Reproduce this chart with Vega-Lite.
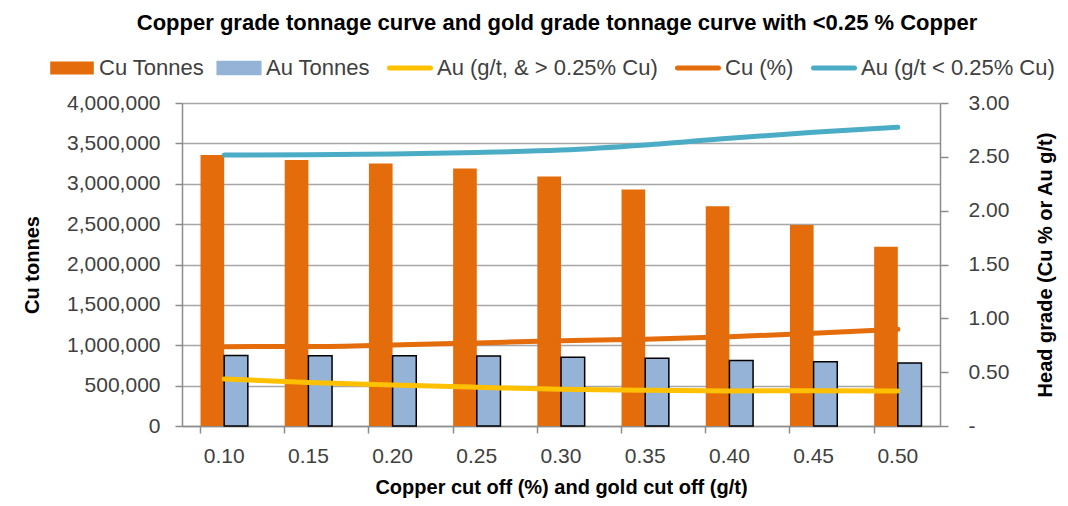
{
  "$schema": "https://vega.github.io/schema/vega-lite/v6.json",
  "width": 758,
  "height": 323,
  "padding": {"left": 22, "top": 12, "right": 6, "bottom": 4},
  "background": "white",
  "config": {
    "font": "Liberation Sans",
    "view": {"stroke": null},
    "axis": {
      "labelFontSize": 21,
      "labelColor": "#404040",
      "titleFontSize": 20,
      "titleFontWeight": "bold",
      "titleColor": "#000000",
      "domainColor": "#8c8c8c",
      "domainWidth": 1.5,
      "tickColor": "#8c8c8c",
      "tickWidth": 1.5
    }
  },
  "title": {
    "text": "Copper grade tonnage curve and gold grade tonnage curve with <0.25 % Copper",
    "fontSize": 22,
    "fontWeight": "bold",
    "color": "#000000",
    "anchor": "middle",
    "frame": "group",
    "offset": 22,
    "dx": -4
  },
  "data": {
    "values": [
      {"cutoff": "0.10", "series": "Cu Tonnes", "value": 3355000},
      {"cutoff": "0.15", "series": "Cu Tonnes", "value": 3295000},
      {"cutoff": "0.20", "series": "Cu Tonnes", "value": 3250000},
      {"cutoff": "0.25", "series": "Cu Tonnes", "value": 3190000},
      {"cutoff": "0.30", "series": "Cu Tonnes", "value": 3090000},
      {"cutoff": "0.35", "series": "Cu Tonnes", "value": 2930000},
      {"cutoff": "0.40", "series": "Cu Tonnes", "value": 2720000},
      {"cutoff": "0.45", "series": "Cu Tonnes", "value": 2490000},
      {"cutoff": "0.50", "series": "Cu Tonnes", "value": 2220000},
      {"cutoff": "0.10", "series": "Au Tonnes", "value": 872000},
      {"cutoff": "0.15", "series": "Au Tonnes", "value": 871000},
      {"cutoff": "0.20", "series": "Au Tonnes", "value": 870000},
      {"cutoff": "0.25", "series": "Au Tonnes", "value": 868000},
      {"cutoff": "0.30", "series": "Au Tonnes", "value": 852000},
      {"cutoff": "0.35", "series": "Au Tonnes", "value": 840000},
      {"cutoff": "0.40", "series": "Au Tonnes", "value": 810000},
      {"cutoff": "0.45", "series": "Au Tonnes", "value": 797000},
      {"cutoff": "0.50", "series": "Au Tonnes", "value": 780000},
      {"cutoff": "0.10", "series": "Au (g/t, & > 0.25% Cu)", "value": 0.437},
      {"cutoff": "0.15", "series": "Au (g/t, & > 0.25% Cu)", "value": 0.405},
      {"cutoff": "0.20", "series": "Au (g/t, & > 0.25% Cu)", "value": 0.38},
      {"cutoff": "0.25", "series": "Au (g/t, & > 0.25% Cu)", "value": 0.36},
      {"cutoff": "0.30", "series": "Au (g/t, & > 0.25% Cu)", "value": 0.341},
      {"cutoff": "0.35", "series": "Au (g/t, & > 0.25% Cu)", "value": 0.333},
      {"cutoff": "0.40", "series": "Au (g/t, & > 0.25% Cu)", "value": 0.326},
      {"cutoff": "0.45", "series": "Au (g/t, & > 0.25% Cu)", "value": 0.327},
      {"cutoff": "0.50", "series": "Au (g/t, & > 0.25% Cu)", "value": 0.325},
      {"cutoff": "0.10", "series": "Cu (%)", "value": 0.737},
      {"cutoff": "0.15", "series": "Cu (%)", "value": 0.738},
      {"cutoff": "0.20", "series": "Cu (%)", "value": 0.752},
      {"cutoff": "0.25", "series": "Cu (%)", "value": 0.772},
      {"cutoff": "0.30", "series": "Cu (%)", "value": 0.792},
      {"cutoff": "0.35", "series": "Cu (%)", "value": 0.805},
      {"cutoff": "0.40", "series": "Cu (%)", "value": 0.829},
      {"cutoff": "0.45", "series": "Cu (%)", "value": 0.861},
      {"cutoff": "0.50", "series": "Cu (%)", "value": 0.898},
      {"cutoff": "0.10", "series": "Au (g/t < 0.25% Cu)", "value": 2.517},
      {"cutoff": "0.15", "series": "Au (g/t < 0.25% Cu)", "value": 2.52},
      {"cutoff": "0.20", "series": "Au (g/t < 0.25% Cu)", "value": 2.527},
      {"cutoff": "0.25", "series": "Au (g/t < 0.25% Cu)", "value": 2.54},
      {"cutoff": "0.30", "series": "Au (g/t < 0.25% Cu)", "value": 2.563},
      {"cutoff": "0.35", "series": "Au (g/t < 0.25% Cu)", "value": 2.61},
      {"cutoff": "0.40", "series": "Au (g/t < 0.25% Cu)", "value": 2.673},
      {"cutoff": "0.45", "series": "Au (g/t < 0.25% Cu)", "value": 2.728},
      {"cutoff": "0.50", "series": "Au (g/t < 0.25% Cu)", "value": 2.774}
    ]
  },
  "layer": [
    {
      "transform": [{"filter": "datum.series == 'Cu Tonnes' || datum.series == 'Au Tonnes'"}],
      "mark": {"type": "bar"},
      "encoding": {
        "x": {
          "field": "cutoff",
          "type": "nominal",
          "scale": {"paddingInner": 0.438, "paddingOuter": 0.22},
          "axis": {
            "title": "Copper cut off (%) and gold cut off (g/t)",
            "labelAngle": 0,
            "bandPosition": 0,
            "tickSize": 7,
            "labelPadding": 12,
            "titlePadding": 11
          }
        },
        "xOffset": {"field": "series", "type": "nominal", "sort": ["Cu Tonnes", "Au Tonnes"], "scale": {"paddingInner": 0}},
        "y": {
          "field": "value",
          "type": "quantitative",
          "scale": {"domain": [0, 4000000], "nice": false},
          "axis": {
            "title": "Cu tonnes",
            "format": ",.0f",
            "values": [0, 500000, 1000000, 1500000, 2000000, 2500000, 3000000, 3500000, 4000000],
            "grid": true,
            "gridColor": "#a6a6a6",
            "gridWidth": 1.3,
            "tickSize": 7,
            "labelPadding": 15,
            "titlePadding": 24
          }
        },
        "color": {
          "field": "series",
          "type": "nominal",
          "scale": {
            "domain": ["Cu Tonnes", "Au Tonnes", "Au (g/t, & > 0.25% Cu)", "Cu (%)", "Au (g/t < 0.25% Cu)"],
            "range": ["#E46C0A", "#95B3D7", "#FFC000", "#E46C0A", "#4BACC6"]
          },
          "legend": {
            "title": null,
            "orient": "none",
            "legendX": -121,
            "legendY": -46,
            "direction": "horizontal",
            "labelFontSize": 22,
            "labelColor": "#404040",
            "labelLimit": 400,
            "labelOffset": 16,
            "columnPadding": 9,
            "symbolSize": 1900,
            "encode": {
              "symbols": {
                "update": {
                  "shape": {"signal": "datum.value == 'Cu Tonnes' || datum.value == 'Au Tonnes' ? 'M-1,-0.3H1V0.3H-1Z' : 'M-0.94,0H0.94'"},
                  "size": {"value": 1900},
                  "fill": {"signal": "datum.value == 'Cu Tonnes' ? '#E46C0A' : datum.value == 'Au Tonnes' ? '#95B3D7' : 'transparent'"},
                  "stroke": {"signal": "datum.value == 'Au Tonnes' ? '#000000' : datum.value == 'Cu Tonnes' ? '#E46C0A' : datum.value == 'Cu (%)' ? '#E46C0A' : datum.value == 'Au (g/t < 0.25% Cu)' ? '#4BACC6' : '#FFC000'"},
                  "strokeWidth": {"signal": "datum.value == 'Au Tonnes' ? 1.5 : datum.value == 'Cu Tonnes' ? 0 : 5"},
                  "strokeCap": {"value": "round"},
                  "opacity": {"value": 1}
                }
              }
            }
          }
        },
        "stroke": {"condition": {"test": "datum.series == 'Au Tonnes'", "value": "#000000"}, "value": "transparent"},
        "strokeWidth": {"condition": {"test": "datum.series == 'Au Tonnes'", "value": 1.5}, "value": 0}
      }
    },
    {
      "transform": [{"filter": "datum.series != 'Cu Tonnes' && datum.series != 'Au Tonnes'"}],
      "mark": {"type": "line", "strokeWidth": 5, "interpolate": "monotone", "strokeCap": "round"},
      "encoding": {
        "x": {"field": "cutoff", "type": "nominal"},
        "y": {
          "field": "value",
          "type": "quantitative",
          "scale": {"domain": [0, 3], "nice": false},
          "axis": {
            "orient": "right",
            "title": "Head grade (Cu % or Au g/t)",
            "titleAngle": 270,
            "values": [0, 0.5, 1, 1.5, 2, 2.5, 3],
            "labelExpr": "datum.value == 0 ? '-' : format(datum.value, '.2f')",
            "grid": false,
            "tickSize": 8,
            "labelPadding": 20,
            "titlePadding": 47
          }
        },
        "color": {
          "field": "series",
          "type": "nominal",
          "scale": {
            "domain": ["Cu Tonnes", "Au Tonnes", "Au (g/t, & > 0.25% Cu)", "Cu (%)", "Au (g/t < 0.25% Cu)"],
            "range": ["#E46C0A", "#95B3D7", "#FFC000", "#E46C0A", "#4BACC6"]
          },
          "legend": {
            "title": null,
            "orient": "none",
            "legendX": -121,
            "legendY": -46,
            "direction": "horizontal",
            "labelFontSize": 22,
            "labelColor": "#404040",
            "labelLimit": 400,
            "labelOffset": 16,
            "columnPadding": 9,
            "symbolSize": 1900,
            "encode": {
              "symbols": {
                "update": {
                  "shape": {"signal": "datum.value == 'Cu Tonnes' || datum.value == 'Au Tonnes' ? 'M-1,-0.3H1V0.3H-1Z' : 'M-0.94,0H0.94'"},
                  "size": {"value": 1900},
                  "fill": {"signal": "datum.value == 'Cu Tonnes' ? '#E46C0A' : datum.value == 'Au Tonnes' ? '#95B3D7' : 'transparent'"},
                  "stroke": {"signal": "datum.value == 'Au Tonnes' ? '#000000' : datum.value == 'Cu Tonnes' ? '#E46C0A' : datum.value == 'Cu (%)' ? '#E46C0A' : datum.value == 'Au (g/t < 0.25% Cu)' ? '#4BACC6' : '#FFC000'"},
                  "strokeWidth": {"signal": "datum.value == 'Au Tonnes' ? 1.5 : datum.value == 'Cu Tonnes' ? 0 : 5"},
                  "strokeCap": {"value": "round"},
                  "opacity": {"value": 1}
                }
              }
            }
          }
        }
      }
    }
  ],
  "resolve": {"scale": {"y": "independent"}}
}
